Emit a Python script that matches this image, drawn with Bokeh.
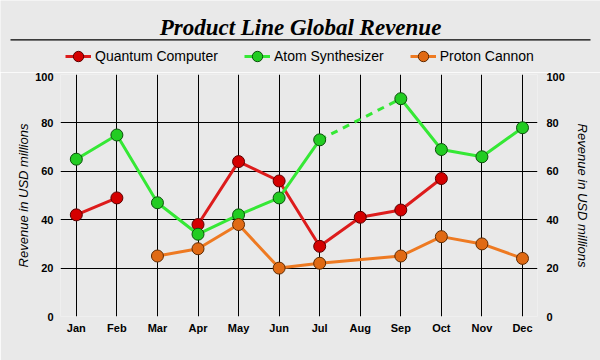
from bokeh.plotting import figure
from bokeh.layouts import column
from bokeh.models import (Range1d, LinearAxis, FixedTicker, Legend, LegendItem,
                          Label, BoxAnnotation)
from bokeh.embed import file_html
from bokeh.resources import INLINE

# ---- data ----
months = ["Jan", "Feb", "Mar", "Apr", "May", "Jun", "Jul", "Aug", "Sep", "Oct", "Nov", "Dec"]
quantum = [42, 49, None, 38, 64, 56, 29, 41, 44, 57, None, None]
atom = [65, 75, 47, 34, 42, 49, 73, None, 90, 69, 66, 78]
proton = [None, None, 25, 28, 38, 20, 22, None, 25, 33, 30, 24]
y_ticks = [0, 20, 40, 60, 80, 100]

title_text = "Product Line Global Revenue"
y_title = "Revenue in USD millions"

BG = "#e9e9e9"
W, H_HEAD, H_CHART = 600, 72, 288
B_TOP, B_BOTTOM = 2, 44

series = [
    ("Quantum Computer", quantum, "#dd1c1c", "#d40000", "#5a0000", "break"),
    ("Atom Synthesizer", atom, "#35e835", "#22cc22", "#0b500b", "dash"),
    ("Proton Cannon", proton, "#ee7a22", "#e06a14", "#5f2a00", "join"),
]
xs = list(range(len(months)))

can_unalign = "frame_align" in figure.properties()

def style_bg(fig):
    fig.background_fill_color = BG
    fig.border_fill_color = BG
    fig.outline_line_color = None
    if can_unalign:
        fig.frame_align = False

# ---- header: title, rule, legend ----
if can_unalign:
    hb_l, hb_r, hx0, hx1 = 0, 0, 0, W
else:
    hb_l, hb_r, hx0, hx1 = 60, 63, 60, 537
head = figure(width=W, height=H_HEAD, output_backend="svg", toolbar_location=None,
              x_range=Range1d(hx0, hx1), y_range=Range1d(H_HEAD, 0),
              x_axis_location=None, y_axis_location=None,
              min_border=0, min_border_left=hb_l, min_border_right=hb_r,
              min_border_top=0, min_border_bottom=0)
head.grid.visible = False
style_bg(head)

head.add_layout(Label(x=300, y=27, text=title_text, text_align="center",
                      text_baseline="alphabetic", text_font="Liberation Serif",
                      text_font_style="bold italic", text_font_size="23px",
                      text_color="black"))
head.add_layout(BoxAnnotation(left=10, right=590, top=38.8, bottom=40.0,
                              fill_color="black", fill_alpha=1, line_color=None))

items = []
for name, vals, lc, fc, oc, mode in series:
    mx = [x for x, v in zip(xs, vals) if v is not None]
    my = [v for v in vals if v is not None]
    lr = head.line(mx, my, line_color=lc, line_width=3, visible=False)
    sr = head.scatter(mx, my, size=12, fill_color=fc, line_color=oc, line_width=1, visible=False)
    items.append(LegendItem(label=name, renderers=[lr, sr]))
leg = Legend(items=items, orientation="horizontal", location=(65 - hx0, 3),
             glyph_width=26, glyph_height=26, label_standoff=4, spacing=26,
             padding=0, margin=0, border_line_color=None, background_fill_alpha=0,
             label_text_font="Liberation Sans", label_text_font_size="14px",
             label_text_color="black", label_height=26)
head.add_layout(leg, "center")

# ---- chart ----
p = figure(width=W, height=H_CHART, output_backend="svg", toolbar_location=None,
           x_range=Range1d(-0.39, 11.37), y_range=Range1d(0, 100),
           min_border_left=60, min_border_right=W - 537,
           min_border_top=B_TOP, min_border_bottom=B_BOTTOM)
style_bg(p)

def nan(v):
    return float("nan") if v is None else v

for name, vals, lc, fc, oc, mode in series:
    if mode == "join":
        px = [x for x, v in zip(xs, vals) if v is not None]
        py = [v for v in vals if v is not None]
        p.line(px, py, line_color=lc, line_width=3)
    else:
        p.line(xs, [nan(v) for v in vals], line_color=lc, line_width=3)
    if mode == "dash":
        present = [(x, v) for x, v in zip(xs, vals) if v is not None]
        for (x0, v0), (x1, v1) in zip(present[:-1], present[1:]):
            if x1 - x0 > 1:
                p.line([x0, x1], [v0, v1], line_color=lc, line_width=3, line_dash="7 6")
    mx = [x for x, v in zip(xs, vals) if v is not None]
    my = [v for v in vals if v is not None]
    p.scatter(mx, my, size=12, fill_color=fc, line_color=oc, line_width=1)

# grids
p.xgrid.ticker = FixedTicker(ticks=xs)
p.ygrid.ticker = FixedTicker(ticks=y_ticks)
for g in (p.xgrid, p.ygrid):
    g.grid_line_color = "black"
    g.grid_line_width = 1

# axes
p.xaxis.ticker = FixedTicker(ticks=xs)
p.xaxis.major_label_overrides = {i: m for i, m in enumerate(months)}
p.yaxis.ticker = FixedTicker(ticks=y_ticks)
right = LinearAxis(ticker=FixedTicker(ticks=y_ticks))
p.add_layout(right, "right")
for ax in (p.xaxis[0], p.yaxis[0], right):
    ax.axis_line_color = None
    ax.major_tick_line_color = None
    ax.minor_tick_line_color = None
    ax.major_tick_out = 0
    ax.major_tick_in = 0
    ax.major_label_text_font = "Liberation Sans"
    ax.major_label_text_font_style = "bold"
    ax.major_label_text_font_size = "11px"
    ax.major_label_text_color = "black"
p.xaxis.major_label_standoff = 5
p.yaxis.major_label_standoff = 7
right.major_label_standoff = 9

for ax in (p.yaxis[0], right):
    ax.axis_label = y_title
    ax.axis_label_text_font = "Liberation Sans"
    ax.axis_label_text_font_style = "italic"
    ax.axis_label_text_font_size = "13px"
    ax.axis_label_text_color = "black"
p.yaxis.axis_label_standoff = 1
right.axis_label_standoff = 7

layout = column(head, p, spacing=0)
open("out.html", "w").write(file_html(layout, INLINE))
